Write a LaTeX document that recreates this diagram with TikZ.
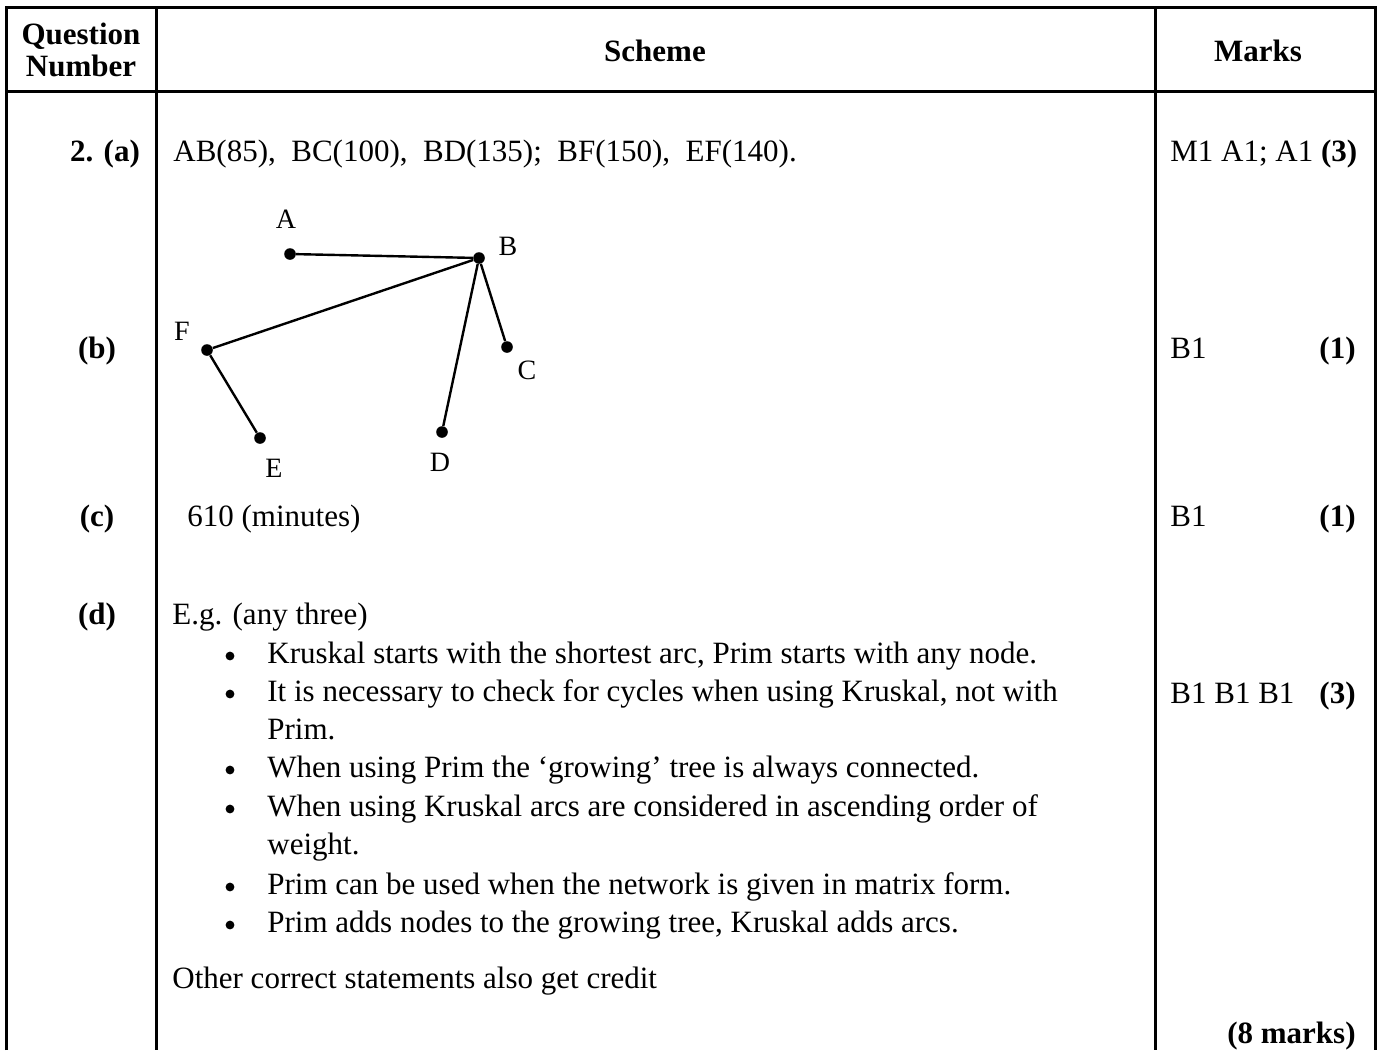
\documentclass[tikz,border=0pt]{standalone}
\usepackage{fontspec}
\setmainfont{Liberation Serif}
\usepackage{tikz}

\begin{document}
\begin{tikzpicture}[x=0.5pt, y=-0.5pt,
  txt/.style={anchor=base west, inner sep=0pt, font=\fontsize{15.5}{18}\selectfont},
  ctr/.style={anchor=base, inner sep=0pt, font=\fontsize{15.5}{18}\selectfont},
  rgt/.style={anchor=base east, inner sep=0pt, font=\fontsize{15.5}{18}\selectfont},
  lbl/.style={anchor=base, inner sep=0pt, font=\fontsize{14}{16}\selectfont},
  vertex/.style={circle, fill=black, inner sep=0pt, minimum size=5.8pt},
  blt/.style={circle, fill=black, inner sep=0pt, minimum size=4.4pt},
  rule/.style={line width=1.5pt},
  arc/.style={line width=1.2pt}]
\useasboundingbox (0,0) rectangle (1385,1050);
\draw[rule] (6,1050) -- (6,7) -- (1375,7) -- (1375,1050);
\draw[rule] (6,91) -- (1375,91);
\draw[rule] (156,7) -- (156,1050);
\draw[rule] (1155,7) -- (1155,1050);

\node[ctr] (qq) at (81,44) {\textbf{Question}};
\node[ctr] (qn) at (81,76) {\textbf{Number}};
\node[ctr] (sch) at (655,61) {\textbf{Scheme}};
\node[ctr] (mk) at (1258,61) {\textbf{Marks}};

\node[ctr] (qa) at (105,161) {\textbf{2. (a)}};
\node[txt] (sa) at (173,161) {AB(85),\ \ BC(100),\ \ BD(135);\ \ BF(150),\ \ EF(140).};
\node[txt] (ma) at (1170,161) {M1 A1; A1 \textbf{(3)}};

\node[vertex] (A) at (290,254) {};
\node[vertex] (B) at (479,258) {};
\node[vertex] (C) at (507,347) {};
\node[vertex] (D) at (442,432) {};
\node[vertex] (E) at (260,438) {};
\node[vertex] (F) at (207,350) {};
\node[lbl] (la) at (286,228) {A};
\node[lbl] (lb) at (508,255) {B};
\node[lbl] (lc) at (527,379) {C};
\node[lbl] (ld) at (440,471) {D};
\node[lbl] (le) at (274,477) {E};
\node[lbl] (lf) at (182,340) {F};
\draw[arc] (A) -- (B);
\draw[arc] (B) -- (C);
\draw[arc] (B) -- (D);
\draw[arc] (B) -- (F);
\draw[arc] (F) -- (E);

\node[ctr] (qb) at (97,358) {\textbf{(b)}};
\node[txt] (mb) at (1170,358) {B1};
\node[rgt] (mb1) at (1356,358) {\textbf{(1)}};

\node[ctr] (qc) at (97,526) {\textbf{(c)}};
\node[txt] (sc) at (187,526) {610 (minutes)};
\node[txt] (mc) at (1170,526) {B1};
\node[rgt] (mc1) at (1356,526) {\textbf{(1)}};

\node[ctr] (qd) at (97,624) {\textbf{(d)}};
\node[txt] (sd) at (172,624) {E.g. (any three)};
\node[blt] (b1) at (230,656) {};
\node[txt] (d1) at (267,663) {Kruskal starts with the shortest arc, Prim starts with any node.};
\node[blt] (b2) at (230,694) {};
\node[txt] (d2) at (267,701) {It is necessary to check for cycles when using Kruskal, not with};
\node[txt] (d2b) at (267,739) {Prim.};
\node[blt] (b3) at (230,770) {};
\node[txt] (d3) at (267,777) {When using Prim the ‘growing’ tree is always connected.};
\node[blt] (b4) at (230,809) {};
\node[txt] (d4) at (267,816) {When using Kruskal arcs are considered in ascending order of};
\node[txt] (d4b) at (267,854) {weight.};
\node[blt] (b5) at (230,887) {};
\node[txt] (d5) at (267,894) {Prim can be used when the network is given in matrix form.};
\node[blt] (b6) at (230,925) {};
\node[txt] (d6) at (267,932) {Prim adds nodes to the growing tree, Kruskal adds arcs.};
\node[txt] (so) at (172,988) {Other correct statements also get credit};
\node[txt] (md) at (1170,703) {B1 B1 B1};
\node[rgt] (md1) at (1356,703) {\textbf{(3)}};
\node[rgt] (tot) at (1356,1043) {\textbf{(8 marks)}};
\end{tikzpicture}
\end{document}
